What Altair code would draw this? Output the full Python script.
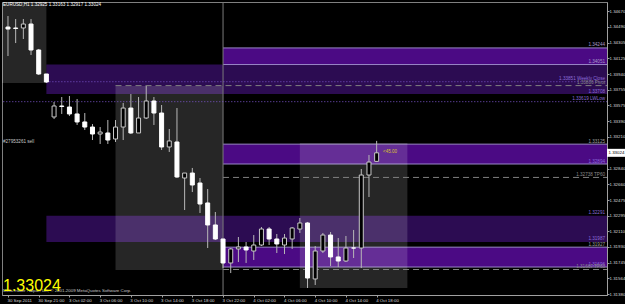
import altair as alt
import pandas as pd

FONT = "Liberation Sans, Arial, sans-serif"
FS = 4.6
AFS = 4.4

# ---------------- data ----------------
opens = [1.34487, 1.34476, 1.34476, 1.34522, 1.34220, 1.33941, 1.33441, 1.33569, 1.33557, 1.33476,
         1.33383, 1.33324, 1.33243, 1.33255, 1.33185, 1.33324, 1.33545, 1.33255, 1.33429, 1.33627,
         1.33487, 1.33092, 1.33150, 1.32731, 1.32789, 1.32673, 1.32441, 1.32185, 1.32022, 1.31743,
         1.31906, 1.31929, 1.31882, 1.31952, 1.32138, 1.32022, 1.31952, 1.32022, 1.32138, 1.32208,
         1.31557, 1.31882, 1.32068, 1.31813, 1.31766, 1.31917, 1.31917, 1.32766, 1.32925]
highs = [1.34615, 1.34580, 1.34580, 1.34580, 1.34232, 1.33941, 1.33615, 1.33673, 1.33685, 1.33650,
         1.33487, 1.33359, 1.33324, 1.33406, 1.33406, 1.33604, 1.33708, 1.33673, 1.33801, 1.33673,
         1.33580, 1.33301, 1.33545, 1.32789, 1.32848, 1.32731, 1.32603, 1.32336, 1.32022, 1.31917,
         1.32045, 1.31987, 1.32068, 1.32161, 1.32161, 1.32080, 1.32080, 1.32161, 1.32266, 1.32220,
         1.31940, 1.32092, 1.32103, 1.32033, 1.32057, 1.32127, 1.32836, 1.32999, 1.33163]
lows = [1.34150, 1.34301, 1.34348, 1.34162, 1.33929, 1.33836, 1.33417, 1.33476, 1.33452, 1.33348,
        1.33290, 1.33173, 1.33127, 1.33127, 1.33150, 1.33173, 1.33243, 1.33255, 1.33417, 1.33348,
        1.33057, 1.33034, 1.32731, 1.32359, 1.32568, 1.32324, 1.31917, 1.32010, 1.31685, 1.31626,
        1.31754, 1.31743, 1.31778, 1.31940, 1.31952, 1.31859, 1.31847, 1.31906, 1.32092, 1.31452,
        1.31487, 1.31859, 1.31708, 1.31696, 1.31754, 1.31801, 1.31685, 1.32510, 1.32917]
closes = [1.34464, 1.34470, 1.34522, 1.34220, 1.33941, 1.33848, 1.33569, 1.33563, 1.33476, 1.33383,
          1.33324, 1.33243, 1.33266, 1.33173, 1.33324, 1.33545, 1.33255, 1.33429, 1.33627, 1.33487,
          1.33092, 1.33162, 1.32743, 1.32789, 1.32650, 1.32429, 1.32185, 1.32022, 1.31743, 1.31906,
          1.31929, 1.31894, 1.31952, 1.32138, 1.32022, 1.31964, 1.32033, 1.32150, 1.32208, 1.31568,
          1.31882, 1.32068, 1.31813, 1.31766, 1.31917, 1.31917, 1.32766, 1.32917, 1.33024]

time_ticks = [0, 4, 8, 12, 16, 20, 24, 28, 32, 36, 40, 44, 48]
time_labels = ["30 Sep 2011", "30 Sep 21:00", "3 Oct 02:00", "3 Oct 06:00", "3 Oct 10:00",
               "3 Oct 14:00", "3 Oct 18:00", "3 Oct 22:00", "4 Oct 02:00", "4 Oct 06:00",
               "4 Oct 10:00", "4 Oct 14:00", "4 Oct 18:00"]
price_ticks = [1.34670, 1.34490, 1.34305, 1.34125, 1.33940, 1.33755, 1.33575, 1.33390, 1.33210,
               1.32840, 1.32660, 1.32475, 1.32295, 1.32110, 1.31930, 1.31745, 1.31564, 1.31380]

# support / resistance zones (start bar, top, bottom, kind)
band_start = [28, 5, 28, 5, 28]
band_top = [1.34244, 1.34051, 1.33125, 1.32291, 1.31927]
band_bottom = [1.34051, 1.33708, 1.32894, 1.31987, 1.31696]
band_kind = ["bright", "dark", "bright", "dark", "bright"]

# grey time-range boxes
box_start = [-1, 14, 38]
box_end = [5, 28, 52]
box_top = [1.34800, 1.33801, 1.33138]
box_bottom = [1.33836, 1.31661, 1.31452]

# horizontal level lines
dotted_price = [1.33851, 1.33619]
dotted_start = [5, -1]
dashed_price = [1.33806, 1.32738, 1.31667]
dashed_start = [14, 28, 28]

# level labels
level_price = [1.34244, 1.34051, 1.33851, 1.33806, 1.33708, 1.33619, 1.33125, 1.32894, 1.32738,
               1.32291, 1.31987, 1.31927, 1.31696, 1.31667]
level_text = ["1.34244", "1.34051", "1.33851   Weekly Close", "1.33806   Pivot", "1.33708",
              "1.33619   LWLow", "1.33125", "1.32894", "1.32738   TP60", "1.32291", "1.31987",
              "1.31927", "1.31696", "1.31667   TP60"]
level_color = ["#a898c8", "#a898c8", "#8c6cd8", "#8a8a8a", "#8c6cd8", "#8c6cd8", "#a0a0a0",
               "#8c6cd8", "#8a8a8a", "#8c6cd8", "#8c6cd8", "#a0a0a0", "#8c6cd8", "#8a8a8a"]

separator_bar = [28]
symbol = "EURUSD,H1"
order_label = "#27953261 sell"
pips_label = "<45.00"
copyright_text = "MetaTrader - Alpari UK, \u00a9 2001-2009 MetaQuotes Software Corp."

# ---------------- scales & axes ----------------
xs = alt.Scale(domain=[-0.128, 77.34], nice=False, zero=False)
ys = alt.Scale(domain=[1.313706, 1.347782], nice=False, zero=False)

label_expr = " : ".join(f"datum.value == {v} ? '{t}'" for v, t in zip(time_ticks, time_labels)) + " : ''"

XAXIS = alt.Axis(orient="bottom", values=time_ticks, labelExpr=label_expr,
                 labelAlign="left", labelBaseline="top", labelFont=FONT, labelFontSize=AFS,
                 labelColor="#d8d8d8", labelPadding=1, labelOverlap=False, labelFlush=False,
                 labelBound=False, labelOffset=-1, tickSize=2, tickColor="#a0a0a0",
                 domainColor="#a0a0a0", grid=False, title=None)
YAXIS = alt.Axis(orient="right", values=price_ticks, format=".5f",
                 labelFont=FONT, labelFontSize=AFS, labelColor="#d8d8d8", labelPadding=0,
                 labelOverlap=False, labelFlush=False, labelBound=False, tickSize=2,
                 tickColor="#a0a0a0", domainColor="#a0a0a0", grid=False, title=None)

X = lambda f: alt.X(f, type="quantitative", scale=xs, axis=XAXIS)
Y = lambda f: alt.Y(f, type="quantitative", scale=ys, axis=YAXIS)

candles = pd.DataFrame({"i": list(range(len(opens))), "open": opens, "high": highs,
                        "low": lows, "close": closes})
candles["dir"] = ["bull" if c > o else "bear" for o, c in zip(opens, closes)]
last = candles.iloc[-1]

bands = pd.DataFrame({"s": band_start, "e": [78] * len(band_start), "top": band_top,
                      "bot": band_bottom, "kind": band_kind})
boxes = pd.DataFrame({"s": box_start, "e": box_end, "top": box_top, "bot": box_bottom})
dotted = pd.DataFrame({"p": dotted_price, "s": dotted_start, "e": [78] * 2})
dashed = pd.DataFrame({"p": dashed_price, "s": dashed_start, "e": [78] * 3})
bright = bands[bands.kind == "bright"]
edges = pd.DataFrame({"p": list(bright.top) + list(bright.bot), "s": list(bright.s) * 2, "e": [78] * 6})
levels = pd.DataFrame({"p": level_price, "t": level_text, "c": level_color})

band_layer = alt.Chart(bands).mark_rect(clip=True).encode(
    x=X("s"), x2="e", y=Y("top"), y2="bot",
    color=alt.Color("kind:N", scale=alt.Scale(domain=["bright", "dark"], range=["#4b0a84", "#2c0c52"]),
                    legend=None))

edge_layer = alt.Chart(edges).mark_rule(color="#9a86c8", strokeWidth=1, clip=True).encode(
    x=X("s"), x2="e", y=Y("p"))

box_layer = alt.Chart(boxes).mark_rect(color="#ffffff", opacity=0.15, clip=True).encode(
    x=X("s"), x2="e", y=Y("top"), y2="bot")

sep_layer = alt.Chart(pd.DataFrame({"b": separator_bar})).mark_rule(color="#7a7a7a").encode(x=X("b"))

dotted_layer = alt.Chart(dotted).mark_rule(color="#7a55cc", strokeDash=[1, 2], clip=True).encode(
    x=X("s"), x2="e", y=Y("p"))
dashed_layer = alt.Chart(dashed).mark_rule(color="#808080", strokeDash=[6, 4], clip=True).encode(
    x=X("s"), x2="e", y=Y("p"))

level_text_layer = alt.Chart(levels).mark_text(align="right", baseline="bottom", font=FONT,
                                               fontSize=FS, dy=-0.5).encode(
    x=alt.value(603), y=Y("p"), text="t:N", color=alt.Color("c:N", scale=None))

wick_layer = alt.Chart(candles).mark_rule(color="#b8b8b8").encode(x=X("i"), y=Y("low"), y2="high")
bear_layer = alt.Chart(candles).transform_filter("datum.dir == 'bear'").mark_bar(
    size=4, fill="#ffffff", stroke="#ffffff", strokeWidth=1).encode(x=X("i"), y=Y("open"), y2="close")
bull_layer = alt.Chart(candles).transform_filter("datum.dir == 'bull'").mark_bar(
    size=4, fill="#000000", stroke="#c8c8c8", strokeWidth=1).encode(x=X("i"), y=Y("open"), y2="close")

last_df = pd.DataFrame({"p": [float(last.close)],
                        "t": [f"{last.close:.5f}"],
                        "h": [f"{symbol}  {last.open:.5f} {last.high:.5f} {last.low:.5f} {last.close:.5f}"]})

price_box = alt.Chart(last_df).mark_rule(color="#ffffff", strokeWidth=8).encode(
    x=alt.value(605), x2=alt.value(623), y=Y("p"))
price_box_text = alt.Chart(last_df).mark_text(align="left", baseline="middle", font=FONT,
                                              fontSize=AFS, color="#000000").encode(
    x=alt.value(606.5), y=Y("p"), text="t:N")

header = alt.Chart(last_df).mark_text(align="left", baseline="middle", font=FONT, fontSize=FS,
                                      color="#ffffff").encode(x=alt.value(1), y=alt.value(3), text="h:N")
order_txt = alt.Chart(last_df).mark_text(align="left", baseline="middle", font=FONT, fontSize=FS,
                                         color="#c8c8c8", text=order_label).encode(
    x=alt.value(1), y=alt.value(140))
pips_txt = alt.Chart(last_df).mark_text(align="left", baseline="middle", font=FONT, fontSize=FS,
                                        color="#d8c030", text=pips_label).encode(
    x=alt.value(381), y=alt.value(150))
copy_txt = alt.Chart(last_df).mark_text(align="left", baseline="middle", font=FONT, fontSize=4.4,
                                        color="#c8c8c8", text=copyright_text).encode(
    x=alt.value(1), y=alt.value(289))
big_price = alt.Chart(last_df).mark_text(align="left", baseline="alphabetic", font=FONT, fontSize=16,
                                         color="#ffff00").encode(
    x=alt.value(1), y=alt.value(289), text="t:N")

chart = alt.layer(
    band_layer, edge_layer, box_layer, sep_layer, dotted_layer, dashed_layer,
    level_text_layer, wick_layer, bear_layer, bull_layer, price_box, price_box_text,
    header, order_txt, pips_txt, copy_txt, big_price
).properties(
    width=605, height=293, autosize="none",
    padding={"left": 2, "top": 2, "right": 18, "bottom": 9},
    background="#000000"
).configure_view(stroke="#808080", strokeWidth=1)

chart.save("out.html", embed_options={"renderer": "svg", "actions": False})
